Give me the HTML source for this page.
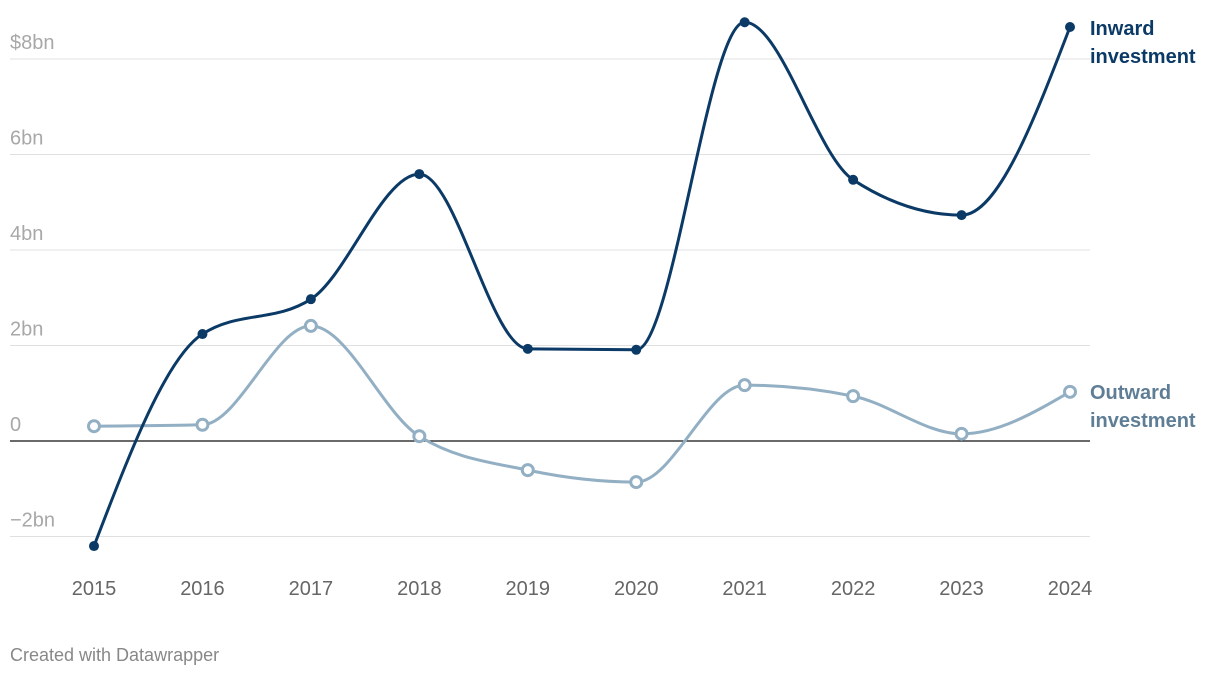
<!DOCTYPE html>
<html><head><meta charset="utf-8"><style>
html,body{margin:0;padding:0;background:#fff;}
svg{display:block;font-family:"Liberation Sans",Roboto,sans-serif;}
</style></head><body>
<svg id="chart" width="1220" height="678">
<g id="grid"></g>
<g id="ylabels"></g>
<g id="xlabels"></g>
<g id="series"></g>
<text x="1090" y="35" font-size="20" font-weight="bold" fill="#0b3a66"><tspan x="1090">Inward</tspan><tspan x="1090" dy="28">investment</tspan></text>
<text x="1090" y="399" font-size="20" font-weight="bold" fill="#5f7e96"><tspan x="1090">Outward</tspan><tspan x="1090" dy="28">investment</tspan></text>
<text x="10" y="661" font-size="18" fill="#888">Created with Datawrapper</text>
</svg>
<script>
const years=["2015","2016","2017","2018","2019","2020","2021","2022","2023","2024"];
const inward=[-2.2,2.24,2.97,5.59,1.93,1.91,8.77,5.47,4.73,8.67];
const outward=[0.31,0.34,2.41,0.10,-0.61,-0.86,1.17,0.94,0.15,1.03];
const yTicks=[-2,0,2,4,6,8];
const yTickLabels=["\u22122bn","0","2bn","4bn","6bn","$8bn"];
const NS="http://www.w3.org/2000/svg";
function x(i){return 94+i*(1070-94)/(years.length-1);}
function y(v){return 441-v*47.75;}
function mk(tag,attrs,parent){const e=document.createElementNS(NS,tag);for(const k in attrs)e.setAttribute(k,attrs[k]);parent.appendChild(e);return e;}
const grid=document.getElementById('grid'),yl=document.getElementById('ylabels'),xl=document.getElementById('xlabels'),ser=document.getElementById('series');
yTicks.forEach((t,i)=>{
  if(t!==0){const l=mk('line',{x1:10,x2:1090,y1:y(t),y2:y(t),stroke:'#e0e0e0','stroke-width':1},grid);
  
  }
  const tx=mk('text',{x:10,y:y(t)-10,'font-size':20,fill:'#a8a8a8'},yl);
  tx.textContent=yTickLabels[i];
  
  
});
const zl=mk('line',{x1:10,x2:1090,y1:y(0),y2:y(0),stroke:'#111','stroke-width':1.3},grid);


years.forEach((yr,i)=>{
  const t=mk('text',{x:x(i),y:595,'font-size':20,fill:'#666','text-anchor':'middle'},xl);
  t.textContent=yr;
  
  
});
function monotone(pts){
  const n=pts.length,d=[],m=[];
  for(let i=0;i<n-1;i++)d.push((pts[i+1][1]-pts[i][1])/(pts[i+1][0]-pts[i][0]));
  for(let i=0;i<n;i++){
    if(i===0)m.push(d[0]);else if(i===n-1)m.push(d[n-2]);
    else m.push(d[i-1]*d[i]<=0?0:(3*(d[i-1]+d[i]))/(( 2*d[i]+d[i-1])/d[i-1]*d[i-1]/d[i]*0+0)||0);
  }
  // d3 monotoneX slopes
  for(let i=1;i<n-1;i++){
    const h0=pts[i][0]-pts[i-1][0],h1=pts[i+1][0]-pts[i][0];
    const s0=d[i-1],s1=d[i],p=(s0*h1+s1*h0)/(h0+h1);
    m[i]=(Math.sign(s0)+Math.sign(s1))*Math.min(Math.abs(s0),Math.abs(s1),0.5*Math.abs(p))||0;
  }
  const h=pts[1][0]-pts[0][0];
  m[0]=(3*d[0]-m[1])/2; m[n-1]=(3*d[n-2]-m[n-2])/2;
  let s='M'+pts[0][0]+','+pts[0][1];
  for(let i=0;i<n-1;i++){
    const dx=(pts[i+1][0]-pts[i][0])/3;
    s+=' C'+(pts[i][0]+dx)+','+(pts[i][1]+m[i]*dx)+' '+(pts[i+1][0]-dx)+','+(pts[i+1][1]-m[i+1]*dx)+' '+pts[i+1][0]+','+pts[i+1][1];
  }
  return s;
}
function draw(vals,color,name,hollow){
  const pts=vals.map((v,i)=>[x(i),y(v)]);
  const p=mk('path',{d:monotone(pts),fill:'none',stroke:color,'stroke-width':3},ser);
  
  
  pts.forEach(pt=>{
    const c=mk('circle',hollow?{cx:pt[0],cy:pt[1],r:5.5,fill:'#fff',stroke:color,'stroke-width':3}:{cx:pt[0],cy:pt[1],r:5,fill:color},ser);
    
    
  });
}
draw(outward,'#93afc4','outward',true);
draw(inward,'#0b3a66','inward',false);
</script>
</body></html>
